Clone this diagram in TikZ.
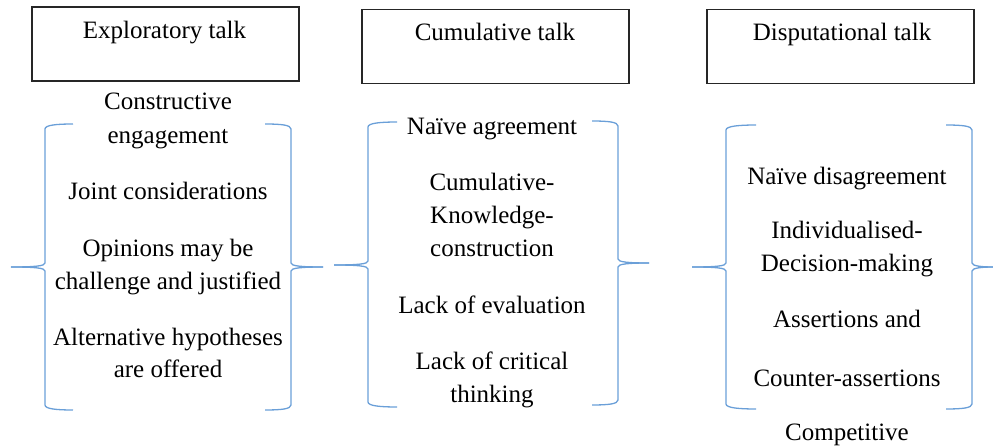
\documentclass[tikz,border=0pt]{standalone}
\usepackage{fontspec}
\setmainfont{Liberation Serif}
\definecolor{bracecol}{HTML}{6A9FD8}
\definecolor{boxcol}{HTML}{262626}
% left brace: #1 tip x, #2 spine x, #3 middle point x, #4 top y, #5 middle y, #6 bottom y
\newcommand\leftbrace[6]{%
  \draw[bracebrace] (#1,#4) .. controls (#1-16,#4) and (#2,#4+1) .. (#2,#4+5)
     -- (#2,#5-4) .. controls (#2,#5-1) and (#2-10,#5) .. (#3,#5);
  \draw[bracebrace] (#3,#5) .. controls (#2-10,#5) and (#2,#5+1) .. (#2,#5+4)
     -- (#2,#6-5) .. controls (#2,#6-1) and (#1-16,#6) .. (#1,#6);
}
% right brace, same arguments
\newcommand\rightbrace[6]{%
  \draw[bracebrace] (#1,#4) .. controls (#1+16,#4) and (#2,#4+1) .. (#2,#4+5)
     -- (#2,#5-4) .. controls (#2,#5-1) and (#2+10,#5) .. (#3,#5);
  \draw[bracebrace] (#3,#5) .. controls (#2+10,#5) and (#2,#5+1) .. (#2,#5+4)
     -- (#2,#6-5) .. controls (#2,#6-1) and (#1+16,#6) .. (#1,#6);
}
\begin{document}
\begin{tikzpicture}[x=1pt,y=-1pt,
  every node/.style={font=\rmfamily\fontsize{25}{33}\selectfont, inner sep=0pt, text=black},
  titlebox/.style={draw=boxcol, line width=1.2pt, minimum width=267pt, minimum height=74pt},
  itemtext/.style={align=center, execute at begin node=\strut, execute at end node=\strut},
  bracebrace/.style={draw=bracecol, line width=1.3pt}]
\useasboundingbox (0,0) rectangle (993,446);

% headings
\node[titlebox] (b1) at (165.5,44) {};
\node[titlebox] (b2) at (495.5,46.5) {};
\node[titlebox] (b3) at (840.5,46.5) {};
\node[itemtext] (t1) at (164.5,32) {Exploratory talk};
\node[itemtext] (t2) at (495,34) {Cumulative talk};
\node[itemtext] (t3) at (842,34) {Disputational talk};

% exploratory talk
\leftbrace{73}{45}{11}{124}{267}{410}
\rightbrace{265}{291}{323}{124}{267}{410}
\node[itemtext] (e1) at (168,123) {Constructive\\[1pt]engagement};
\node[itemtext] (e2) at (168,193) {Joint considerations};
\node[itemtext] (e3) at (168,269.5) {Opinions may be\\challenge and justified};
\node[itemtext] (e4) at (168,358) {Alternative hypotheses\\[-1pt]are offered};

% cumulative talk
\leftbrace{397}{368}{334}{122}{265}{407}
\rightbrace{592}{618}{649}{121}{263}{405}
\node[itemtext] (c1) at (492,128) {Naïve agreement};
\node[itemtext] (c2) at (492,220) {Cumulative-\\Knowledge-\\construction};
\node[itemtext] (c3) at (492,307) {Lack of evaluation};
\node[itemtext] (c4) at (492,382) {Lack of critical\\thinking};

% disputational talk
\leftbrace{756}{726}{692}{125}{267}{409}
\rightbrace{946}{972}{993}{125}{267}{409}
\node[itemtext] (d1) at (847,178) {Naïve disagreement};
\node[itemtext] (d2) at (847,251) {Individualised-\\Decision-making};
\node[itemtext] (d3) at (847,321) {Assertions and};
\node[itemtext] (d4) at (847,380) {Counter-assertions};
\node[itemtext] (d5) at (847,434) {Competitive};
\end{tikzpicture}
\end{document}
